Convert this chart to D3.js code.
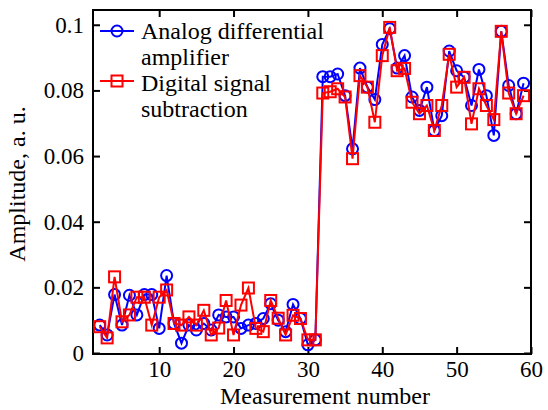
<!DOCTYPE html>
<html>
<head>
<meta charset="utf-8">
<script src="https://cdn.jsdelivr.net/npm/d3@7/dist/d3.min.js"></script>
<style>
  body { margin: 0; background: #fff; }
</style>
</head>
<body>
<svg width="548" height="410"></svg>
<script>
// measurement numbers 2..59
var measurements = d3.range(2, 60);

var analog = [0.0085, 0.0055, 0.0178, 0.0085, 0.0176, 0.0116, 0.0178, 0.0178, 0.0075, 0.0236,
              0.0090, 0.0030, 0.0085, 0.0070, 0.0090, 0.0070, 0.0116, 0.0110, 0.0110, 0.0075,
              0.0085, 0.0090, 0.0105, 0.0150, 0.0100, 0.0065, 0.0148, 0.0105, 0.0025, 0.0040,
              0.0842, 0.0842, 0.0850, 0.0784, 0.0622, 0.0868, 0.0810, 0.0772, 0.0940, 0.0988,
              0.0868, 0.0906, 0.0780, 0.0739, 0.0810, 0.0678, 0.0723, 0.0920, 0.0860, 0.0840,
              0.0754, 0.0864, 0.0784, 0.0663, 0.0980, 0.0815, 0.0729, 0.0822];

var digital = [0.0080, 0.0046, 0.0232, 0.0095, 0.0116, 0.0170, 0.0170, 0.0085, 0.0170, 0.0192,
               0.0090, 0.0085, 0.0110, 0.0085, 0.0130, 0.0055, 0.0076, 0.0160, 0.0055, 0.0146,
               0.0198, 0.0075, 0.0065, 0.0160, 0.0106, 0.0055, 0.0115, 0.0105, 0.0040, 0.0040,
               0.0792, 0.0796, 0.0805, 0.0780, 0.0592, 0.0845, 0.0810, 0.0703, 0.0906, 0.0992,
               0.0860, 0.0867, 0.0764, 0.0729, 0.0754, 0.0678, 0.0754, 0.0910, 0.0810, 0.0840,
               0.0698, 0.0805, 0.0754, 0.0711, 0.0980, 0.0792, 0.0729, 0.0784];

var xTicks = [10, 20, 30, 40, 50, 60];
var yTicks = [0, 0.02, 0.04, 0.06, 0.08, 0.1];

var serif = "'Liberation Serif', 'Times New Roman', serif";

var svg = d3.select("svg"),
    margin = {top: 10, right: 17, bottom: 56, left: 93},
    width = +svg.attr("width") - margin.left - margin.right,
    height = +svg.attr("height") - margin.top - margin.bottom;

var xScale = d3.scaleLinear().domain([1.1, 60]).range([0, width]),
    yScale = d3.scaleLinear().domain([0, 0.1045]).range([height - 1, 0]);

var g = svg.append("g")
    .attr("transform", "translate(" + margin.left + "," + margin.top + ")");

// axes, ticks inward on all four sides
var fmt = function(d) { return d === 0 ? "0" : String(+d.toFixed(2)); };

g.append("g")
    .attr("transform", "translate(0," + height + ")")
    .call(d3.axisBottom(xScale).tickValues(xTicks).tickSizeInner(-7).tickSizeOuter(0).tickPadding(7));
g.append("g")
    .call(d3.axisTop(xScale).tickValues(xTicks).tickSizeInner(-7).tickSizeOuter(0).tickFormat(""));
g.append("g")
    .call(d3.axisLeft(yScale).tickValues(yTicks).tickSizeInner(-7).tickSizeOuter(0).tickPadding(9).tickFormat(fmt));
g.append("g")
    .attr("transform", "translate(" + width + ",0)")
    .call(d3.axisRight(yScale).tickValues(yTicks).tickSizeInner(-7).tickSizeOuter(0).tickFormat(""));

g.selectAll(".domain").remove();
g.selectAll(".tick line").attr("stroke", "#000").attr("stroke-width", 2);
g.selectAll(".tick text")
    .attr("fill", "#000")
    .attr("font-family", serif)
    .attr("font-size", 23);

g.append("rect")
    .attr("x", 0).attr("y", 0)
    .attr("width", width).attr("height", height)
    .attr("fill", "none").attr("stroke", "#000").attr("stroke-width", 2);

// axis titles
svg.append("text")
    .attr("x", 325)
    .attr("y", 404)
    .attr("text-anchor", "middle")
    .attr("font-family", serif)
    .attr("font-size", 24)
    .text("Measurement number");

svg.append("text")
    .attr("transform", "translate(25," + (margin.top + height / 2 + 2) + ") rotate(-90)")
    .attr("text-anchor", "middle")
    .attr("font-family", serif)
    .attr("font-size", 24)
    .text("Amplitude, a. u.");

var line = d3.line()
    .x(function(d) { return xScale(d[0]); })
    .y(function(d) { return yScale(d[1]); });

var series = [
  {name: "analog", color: "#0000ff", values: measurements.map(function(m, i) { return [m, analog[i]]; })},
  {name: "digital", color: "#ff0000", values: measurements.map(function(m, i) { return [m, digital[i]]; })}
];

var plot = g.append("g");

series.forEach(function(s) {
  plot.append("path")
      .datum(s.values)
      .attr("fill", "none")
      .attr("stroke", s.color)
      .attr("stroke-width", 2)
      .attr("d", line);

  if (s.name === "analog") {
    plot.selectAll(".c").data(s.values).enter().append("circle")
        .attr("cx", function(d) { return xScale(d[0]); })
        .attr("cy", function(d) { return yScale(d[1]); })
        .attr("r", 5.5)
        .attr("fill", "none")
        .attr("stroke", s.color)
        .attr("stroke-width", 2);
  } else {
    plot.selectAll(".s").data(s.values).enter().append("rect")
        .attr("x", function(d) { return xScale(d[0]) - 5.5; })
        .attr("y", function(d) { return yScale(d[1]) - 5.5; })
        .attr("width", 11).attr("height", 11)
        .attr("fill", "none")
        .attr("stroke", s.color)
        .attr("stroke-width", 2);
  }
});

// legend
var legend = svg.append("g").attr("font-family", serif).attr("font-size", 24);
legend.append("line").attr("x1", 100).attr("x2", 134).attr("y1", 31).attr("y2", 31)
    .attr("stroke", "#0000ff").attr("stroke-width", 2);
legend.append("circle").attr("cx", 117).attr("cy", 31).attr("r", 5.5)
    .attr("fill", "none").attr("stroke", "#0000ff").attr("stroke-width", 2);
legend.append("text").attr("x", 141).attr("y", 39).text("Analog differential");
legend.append("text").attr("x", 141).attr("y", 65).text("amplifier");

legend.append("line").attr("x1", 100).attr("x2", 134).attr("y1", 81).attr("y2", 81)
    .attr("stroke", "#ff0000").attr("stroke-width", 2);
legend.append("rect").attr("x", 111.5).attr("y", 75.5).attr("width", 11).attr("height", 11)
    .attr("fill", "none").attr("stroke", "#ff0000").attr("stroke-width", 2);
legend.append("text").attr("x", 141).attr("y", 91).text("Digital signal");
legend.append("text").attr("x", 141).attr("y", 117).text("subtraction");
</script>
</body>
</html>
